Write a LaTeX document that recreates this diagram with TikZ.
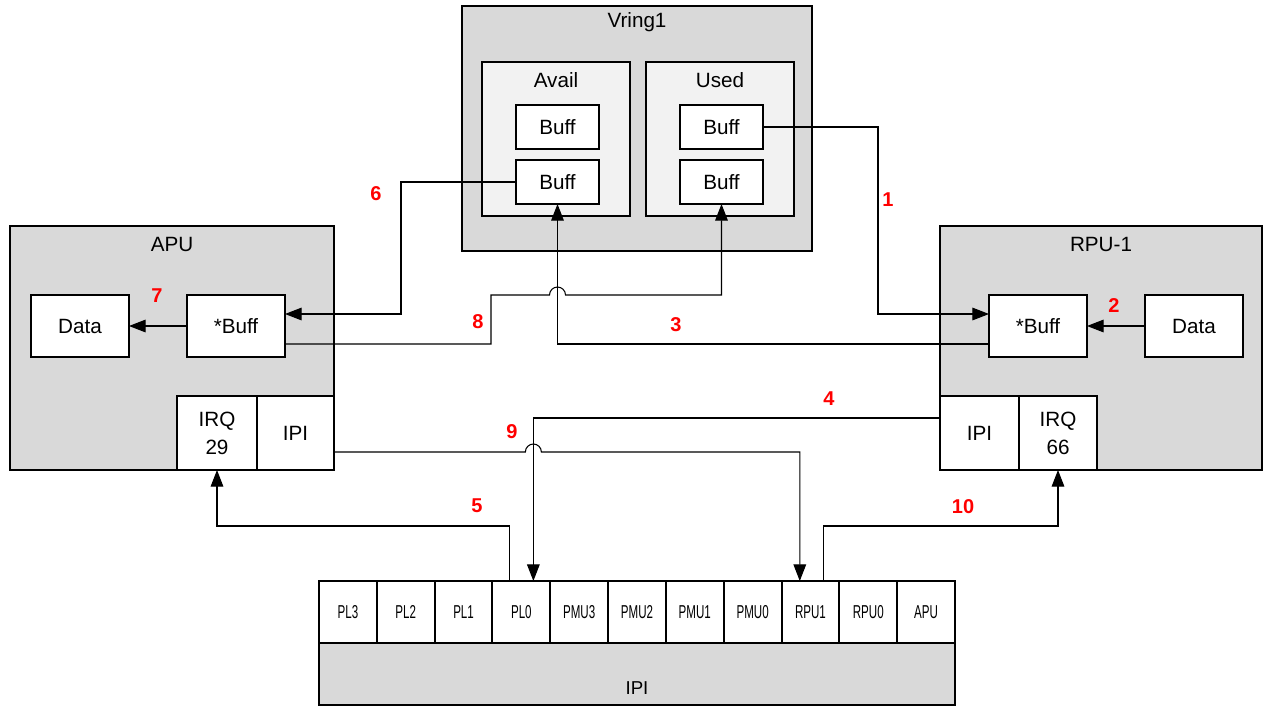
\documentclass[tikz,border=0pt]{standalone}
\usepackage{fontspec}
\setmainfont{Liberation Sans}
\usetikzlibrary{arrows.meta,calc}
\definecolor{gfill}{HTML}{D9D9D9}
\definecolor{lfill}{HTML}{F2F2F2}
\tikzset{
  sz/.style 2 args={minimum width=#1*0.75pt, minimum height=#2*0.75pt},
  bigbox/.style={draw, line width=1.5pt, fill=gfill, inner sep=0pt, outer sep=0pt},
  midbox/.style={draw, line width=1.5pt, fill=lfill, inner sep=0pt, outer sep=0pt},
  wbox/.style={draw, line width=1.5pt, fill=white, inner sep=0pt, outer sep=0pt, font=\fontsize{15.5}{21}\selectfont, align=center},
  cell/.style={draw, line width=1.5pt, fill=white, inner sep=0pt, outer sep=0pt, sz={57.818}{62}},
  ttl/.style={font=\fontsize{15.5}{18}\selectfont, inner sep=0pt},
  num/.style={font=\fontsize{15}{18}\selectfont\bfseries, text=red, inner sep=0pt},
  conn/.style={line width=0.8pt, line join=miter},
  arr/.style={conn, -{Triangle[length=12.5pt,width=9.5pt]}},
}
\newcommand{\celltxt}[1]{\scalebox{0.62}[1]{\fontsize{14}{16}\selectfont #1}}
\begin{document}
\begin{tikzpicture}[x=0.75pt,y=-0.75pt]
\useasboundingbox (0,0) rectangle (1264,708);

% Vring1
\node[bigbox, sz={350}{245}] (vring) at (637,128.5) {};
\node[ttl] (vringt) at ([yshift=-12pt]vring.north) {Vring1};
\node[midbox, sz={148}{154}] (avail) at (556,139) {};
\node[ttl] (availt) at ([yshift=-13.5pt]avail.north) {Avail};
\node[midbox, sz={148}{154}] (used) at (720,139) {};
\node[ttl] (usedt) at ([yshift=-13.5pt]used.north) {Used};
\node[wbox, sz={83}{44}] (at) at (557.5,127) {Buff};
\node[wbox, sz={83}{44}] (ab) at (557.5,182) {Buff};
\node[wbox, sz={83}{44}] (ut) at (721.5,127) {Buff};
\node[wbox, sz={83}{44}] (ub) at (721.5,182) {Buff};

% APU
\node[bigbox, sz={324}{244}] (apu) at (172,348) {};
\node[ttl] (aput) at ([yshift=-13.5pt]apu.north) {APU};
\node[wbox, sz={98}{62}] (ldata) at (80,326) {Data};
\node[wbox, sz={98}{62}] (lbuff) at (236,326) {*Buff};
\node[wbox, sz={80}{74}] (irq29) at (217,433) {IRQ\\29};
\node[wbox, sz={77}{74}] (lipi) at (295.5,433) {IPI};

% RPU-1
\node[bigbox, sz={322}{244}] (rpu) at (1101,348) {};
\node[ttl] (rput) at ([yshift=-13.5pt]rpu.north) {RPU-1};
\node[wbox, sz={98}{62}] (rbuff) at (1038,326) {*Buff};
\node[wbox, sz={98}{62}] (rdata) at (1194,326) {Data};
\node[wbox, sz={79}{74}] (ripi) at (979.5,433) {IPI};
\node[wbox, sz={78}{74}] (irq66) at (1058,433) {IRQ\\66};

% IPI bar
\node[bigbox, sz={636}{124}] (ipi) at (637,643) {};
\node[ttl, font=\fontsize{14}{16}\selectfont] (ipit) at (637,688) {IPI};
\foreach \n [count=\i from 0] in {PL3,PL2,PL1,PL0,PMU3,PMU2,PMU1,PMU0,RPU1,RPU0,APU}{
  \node[cell] (c\n) at ({319+57.818*(\i+0.5)},612) {\celltxt{\n}};
}

% helper coordinates
\coordinate (h8) at (0,295);
\coordinate (h9) at (0,452);

% connectors
\draw[arr] (ut.east) -- ++(115,0) |- ([yshift=9pt]rbuff.west);
\draw[arr] (rdata.west) -- (rbuff.east);
\draw[arr] ([yshift=-13.5pt]rbuff.west) -| (ab.south);
\draw[arr] ([yshift=11.25pt]ripi.west) -| ([xshift=9pt]cPL0.north);
\draw[arr] ([xshift=-9pt]cPL0.north) -- ++(0,-55) -| (irq29.south);
\draw[arr] (ab.west) -- ++(-115,0) |- ([yshift=9pt]lbuff.east);
\draw[arr] (lbuff.west) -- (ldata.east);
\draw[arr] ([yshift=-13.5pt]lbuff.east) -| ($(h8)+(491,0)$) -- ($(ab.south |- h8)+(-8,0)$)
  arc[start angle=180, end angle=0, radius=6pt] -| (ub.south);
\draw[arr] ([yshift=-14.25pt]lipi.east) -- ($([xshift=9pt]cPL0.north |- h9)+(-8,0)$)
  arc[start angle=180, end angle=0, radius=6pt] -| ([xshift=-8pt]cRPU1.north);
\draw[arr] ([xshift=10pt]cRPU1.north) -- ++(0,-55) -| (irq66.south);

% step numbers
\node[num] (n1) at (888,200) {1};
\node[num] (n2) at (1114,306) {2};
\node[num] (n3) at (676,325) {3};
\node[num] (n4) at (829,399) {4};
\node[num] (n5) at (477,506) {5};
\node[num] (n6) at (376,194) {6};
\node[num] (n7) at (157,296) {7};
\node[num] (n8) at (478,322) {8};
\node[num] (n9) at (512,432) {9};
\node[num] (n10) at (963,507) {10};
\end{tikzpicture}
\end{document}
